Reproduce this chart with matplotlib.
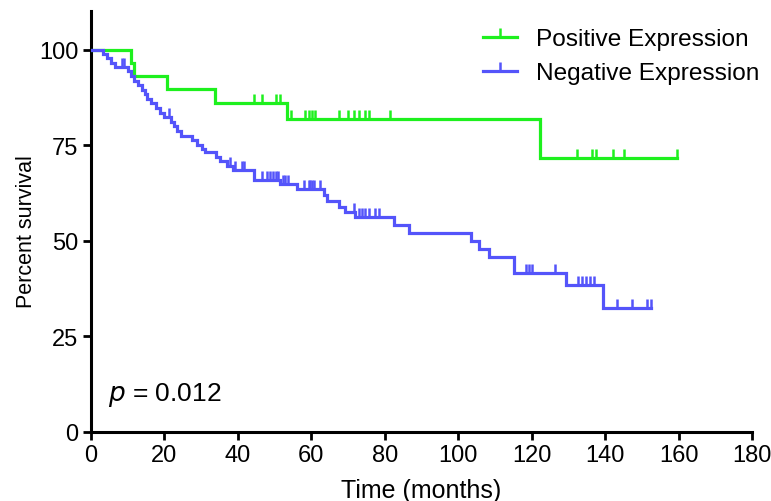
import numpy as np
import matplotlib
matplotlib.use('Agg')
import matplotlib.pyplot as plt
from matplotlib.path import Path
from matplotlib.lines import Line2D

# ---- data ----
pos_label = "Positive Expression"
pos_event_times = [10.9, 11.8, 20.7, 33.7, 53.5, 122.4]
pos_survival = [96.6, 93.1, 89.7, 86.2, 81.9, 71.8]
pos_censor_times = [44.5, 46.5, 50.5, 51.6, 54.4, 58.4, 59.3, 60.1, 61.0, 67.5,
                    70.1, 71.5, 72.9, 74.7, 75.6, 81.4, 132.4, 136.3, 137.5,
                    142.2, 145.1, 159.5]
pos_end = 159.5

neg_label = "Negative Expression"
neg_event_times = [3.2, 4.4, 5.4, 6.6, 10.1, 10.9, 11.8, 12.8, 13.8, 14.6, 15.2,
                   16.4, 17.8, 18.7, 19.8, 21.8, 22.5, 23.5, 24.5, 27.4, 28.8,
                   30.2, 31.0, 34.1, 35.2, 37.1, 38.7, 44.3, 51.5, 56.1, 63.4,
                   64.3, 67.4, 69.2, 72.0, 82.4, 86.6, 103.4, 105.6, 108.4,
                   115.3, 129.4, 139.5]
neg_survival = [98.9, 97.8, 96.7, 95.6, 94.4, 93.2, 92.0, 90.8, 89.6, 88.4, 87.2,
                86.0, 84.8, 83.6, 82.4, 81.2, 80.0, 78.8, 77.6, 76.4, 75.2,
                74.0, 73.2, 72.1, 70.9, 69.7, 68.6, 66.0, 64.8, 63.6, 62.0,
                60.4, 58.9, 57.5, 56.2, 54.2, 52.0, 49.9, 47.8, 45.7,
                41.5, 38.6, 32.4]
neg_censor_times = [8.4, 9.1, 21.3, 37.8, 39.2, 41.1, 41.6, 46.5, 47.9, 48.7, 49.5,
                    50.3, 51.0, 52.2, 52.9, 53.6, 58.1, 59.3, 59.7, 60.2, 60.6,
                    62.4, 71.6, 72.9, 73.8, 74.7, 75.6, 77.4, 78.4, 118.4, 119.2,
                    120.1, 126.4, 132.5, 133.6, 134.9, 136.0, 137.1, 143.3,
                    147.4, 151.5, 152.4]
neg_end = 152.4

p_text_value = "0.012"
x_ticks = [0, 20, 40, 60, 80, 100, 120, 140, 160, 180]
y_ticks = [0, 25, 50, 75, 100]

GREEN = '#1EF01E'
BLUE = '#5454FA'

plt.rcParams['font.family'] = ['Liberation Sans', 'DejaVu Sans']

W, H = 771, 502
fig = plt.figure(figsize=(W / 100, H / 100), dpi=100)
ax = fig.add_axes([91 / W, 1 - 433 / H, (752 - 91) / W, (433 - 12) / H])

tick_marker = Path([(0, 0), (0, 1)], [Path.MOVETO, Path.LINETO])


def level_at(t, times, surv):
    levels = [100.0] + list(surv)
    idx = np.searchsorted(np.asarray(times), t, side='right')
    return np.asarray(levels)[idx]


def draw_km(times, surv, censors, end, color):
    xs = [0.0] + list(times) + [end]
    ys = [100.0] + list(surv) + [surv[-1]]
    ax.step(xs, ys, where='post', color=color, lw=2.3, solid_joinstyle='miter',
            zorder=3)
    cy = level_at(np.asarray(censors), times, surv)
    ax.plot(censors, cy, linestyle='none', marker=tick_marker, markersize=13,
            markeredgewidth=1.8, color=color, zorder=3)


draw_km(pos_event_times, pos_survival, pos_censor_times, pos_end, GREEN)
draw_km(neg_event_times, neg_survival, neg_censor_times, neg_end, BLUE)

ax.set_xlim(0, 180)
ax.set_ylim(0, 110.2)
ax.set_xticks(x_ticks)
ax.set_yticks(y_ticks)
for s in ['top', 'right']:
    ax.spines[s].set_visible(False)
for s in ['left', 'bottom']:
    ax.spines[s].set_linewidth(2.2)
ax.tick_params(axis='both', direction='out', length=6, width=2.0,
               labelsize=17, pad=3)
ax.set_xlabel('Time (months)', fontsize=18, labelpad=8)
ax.set_ylabel('Percent survival', fontsize=15.5)
ax.yaxis.set_label_coords((37 - 91) / (752 - 91), (433 - 232) / (433 - 12))

ax.text(4.5, 10, r'$\it{p}$ = ' + p_text_value, fontsize=19, va='center',
        ha='left')

handles = [
    Line2D([], [], color=GREEN, lw=2.3, marker=tick_marker, markersize=13,
           markeredgewidth=1.8),
    Line2D([], [], color=BLUE, lw=2.3, marker=tick_marker, markersize=13,
           markeredgewidth=1.8),
]
leg = fig.legend(handles, [pos_label, neg_label], loc='upper right',
                 bbox_to_anchor=(759 / W, 1 - 29 / H),
                 bbox_transform=fig.transFigure, frameon=False, fontsize=17.6,
                 handlelength=1.4, handletextpad=0.75, labelspacing=0.5,
                 borderpad=0, borderaxespad=0)

fig.savefig('out.png', dpi=100)
